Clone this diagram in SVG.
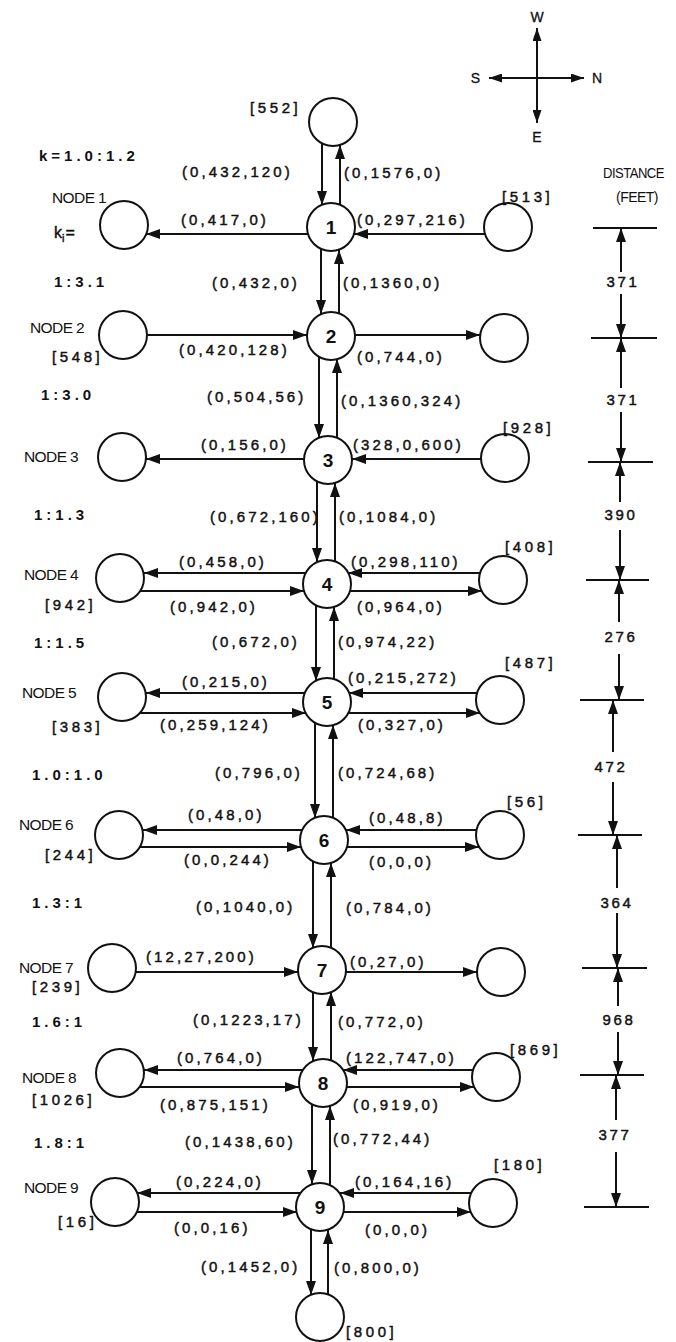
<svg xmlns="http://www.w3.org/2000/svg" width="676" height="1342" viewBox="0 0 676 1342">
<style>
text{font-family:"Liberation Sans",Arial,Helvetica,sans-serif;fill:#111}
.e{font-size:15px;letter-spacing:3.1px;stroke:#111;stroke-width:0.45px}
.r{font-size:15px;font-weight:bold;letter-spacing:4px}
.b{font-size:15px;letter-spacing:3.6px;stroke:#111;stroke-width:0.45px}
.n{font-size:15.5px;letter-spacing:-0.6px}
.num{font-size:19px;font-weight:bold;text-anchor:middle}
.c{font-size:14px;stroke:#111;stroke-width:0.3px}
.d{font-size:15px;letter-spacing:2.6px;text-anchor:middle;stroke:#111;stroke-width:0.45px}
circle{fill:#fff;stroke:#111;stroke-width:2}
.ln line{stroke:#111;stroke-width:2;fill:none}
.ar line{stroke:#111;stroke-width:2;marker-end:url(#ah)}
</style>
<defs>
<marker id="ah" markerUnits="userSpaceOnUse" markerWidth="14" markerHeight="10" refX="14" refY="5" orient="auto"><path d="M0,0 L14,5 L0,10 z" fill="#111"/></marker>
<marker id="ahs" markerUnits="userSpaceOnUse" markerWidth="13" markerHeight="9" refX="13" refY="4.5" orient="auto-start-reverse"><path d="M0,0 L13,4.5 L0,9 z" fill="#111"/></marker>
</defs>

<g id="compass">
<line x1="537" y1="28" x2="537" y2="123" stroke="#111" stroke-width="2" marker-start="url(#ahs)" marker-end="url(#ahs)"/>
<line x1="489" y1="78" x2="584" y2="78" stroke="#111" stroke-width="2" marker-start="url(#ahs)" marker-end="url(#ahs)"/>
<text class="c" x="537" y="22" text-anchor="middle">W</text>
<text class="c" x="537" y="142" text-anchor="middle">E</text>
<text class="c" x="480" y="83" text-anchor="end">S</text>
<text class="c" x="592" y="83">N</text>
</g>

<g id="left-labels">
<text class="r" x="39" y="161">k=1.0:1.2</text>
<text style="font-size:16px;stroke:#111;stroke-width:0.4px" x="54" y="238">k<tspan dy="4" font-size="11">i</tspan><tspan dy="-4" dx="1">=</tspan></text>
<text class="r" x="54" y="287">1:3.1</text>
<text class="r" x="41" y="400">1:3.0</text>
<text class="r" x="34" y="520">1:1.3</text>
<text class="r" x="34" y="648">1:1.5</text>
<text class="r" x="32" y="780">1.0:1.0</text>
<text class="r" x="32" y="908">1.3:1</text>
<text class="r" x="32" y="1027">1.6:1</text>
<text class="r" x="34" y="1148">1.8:1</text>
</g>

<g id="node-top"><circle cx="333" cy="122" r="24"/><text class="b" x="250" y="113">[552]</text></g>
<g id="node-bottom"><circle cx="320" cy="1317" r="24"/><text class="b" x="346" y="1337">[800]</text></g>

<g id="node-1"><circle cx="331" cy="227" r="24"/><text class="num" x="331" y="234">1</text>
<circle cx="124" cy="225" r="24"/><circle cx="508" cy="227" r="24"/>
<text class="n" x="52" y="203">NODE 1</text><text class="b" x="502" y="202">[513]</text></g>
<g id="node-2"><circle cx="331" cy="336" r="24"/><text class="num" x="331" y="343">2</text>
<circle cx="123" cy="335" r="24"/><circle cx="504" cy="338" r="24"/>
<text class="n" x="30" y="333">NODE 2</text><text class="b" x="52" y="362">[548]</text></g>
<g id="node-3"><circle cx="328" cy="460" r="24"/><text class="num" x="328" y="467">3</text>
<circle cx="122" cy="457" r="24"/><circle cx="505" cy="458" r="24"/>
<text class="n" x="24" y="462">NODE 3</text><text class="b" x="503" y="433">[928]</text></g>
<g id="node-4"><circle cx="327" cy="584" r="24"/><text class="num" x="327" y="591">4</text>
<circle cx="120" cy="578" r="24"/><circle cx="503" cy="580" r="24"/>
<text class="n" x="24" y="580">NODE 4</text><text class="b" x="45" y="610">[942]</text><text class="b" x="505" y="552">[408]</text></g>
<g id="node-5"><circle cx="327" cy="702" r="24"/><text class="num" x="327" y="709">5</text>
<circle cx="122" cy="697" r="24"/><circle cx="500" cy="700" r="24"/>
<text class="n" x="22" y="698">NODE 5</text><text class="b" x="52" y="732">[383]</text><text class="b" x="505" y="668">[487]</text></g>
<g id="node-6"><circle cx="324" cy="840" r="24"/><text class="num" x="324" y="847">6</text>
<circle cx="119" cy="835" r="24"/><circle cx="500" cy="835" r="24"/>
<text class="n" x="19" y="830">NODE 6</text><text class="b" x="45" y="860">[244]</text><text class="b" x="507" y="807">[56]</text></g>
<g id="node-7"><circle cx="322" cy="970" r="24"/><text class="num" x="322" y="977">7</text>
<circle cx="112" cy="968" r="24"/><circle cx="501" cy="972" r="24"/>
<text class="n" x="19" y="973">NODE 7</text><text class="b" x="32" y="992">[239]</text></g>
<g id="node-8"><circle cx="323" cy="1083" r="24"/><text class="num" x="323" y="1090">8</text>
<circle cx="120" cy="1073" r="24"/><circle cx="496" cy="1077" r="24"/>
<text class="n" x="22" y="1083">NODE 8</text><text class="b" x="32" y="1105">[1026]</text><text class="b" x="510" y="1055">[869]</text></g>
<g id="node-9"><circle cx="320" cy="1207" r="24"/><text class="num" x="320" y="1214">9</text>
<circle cx="115" cy="1202" r="24"/><circle cx="493" cy="1203" r="24"/>
<text class="n" x="24" y="1193">NODE 9</text><text class="b" x="58" y="1227">[16]</text><text class="b" x="494" y="1170">[180]</text></g>

<g id="connectors" class="ar">
<line x1="322" y1="143" x2="322" y2="205"/><line x1="340" y1="205" x2="340" y2="145"/>
<line x1="308" y1="234" x2="146" y2="234"/><line x1="485" y1="234" x2="354" y2="234"/>
<line x1="321" y1="249" x2="321" y2="314"/><line x1="339" y1="313" x2="339" y2="250"/>
<line x1="147" y1="335" x2="307" y2="335"/><line x1="355" y1="335" x2="480" y2="335"/>
<line x1="319" y1="357" x2="319" y2="438"/><line x1="337" y1="438" x2="337" y2="359"/>
<line x1="304" y1="459" x2="146" y2="459"/><line x1="481" y1="459" x2="352" y2="459"/>
<line x1="317" y1="481" x2="317" y2="562"/><line x1="335" y1="561" x2="335" y2="483"/>
<line x1="306" y1="573" x2="144" y2="573"/><line x1="480" y1="573" x2="348" y2="573"/>
<line x1="140" y1="591" x2="304" y2="591"/><line x1="350" y1="591" x2="482" y2="591"/>
<line x1="316" y1="605" x2="316" y2="681"/><line x1="334" y1="679" x2="334" y2="607"/>
<line x1="305" y1="693" x2="146" y2="693"/><line x1="477" y1="693" x2="349" y2="693"/>
<line x1="140" y1="713" x2="306" y2="713"/><line x1="348" y1="713" x2="480" y2="713"/>
<line x1="315" y1="723" x2="315" y2="818"/><line x1="333" y1="818" x2="333" y2="725"/>
<line x1="302" y1="830" x2="143" y2="830"/><line x1="477" y1="830" x2="346" y2="830"/>
<line x1="140" y1="847" x2="301" y2="847"/><line x1="347" y1="847" x2="479" y2="847"/>
<line x1="313" y1="861" x2="313" y2="948"/><line x1="331" y1="948" x2="331" y2="863"/>
<line x1="136" y1="972" x2="298" y2="972"/><line x1="346" y1="972" x2="477" y2="972"/>
<line x1="313" y1="992" x2="313" y2="1061"/><line x1="331" y1="1060" x2="331" y2="992"/>
<line x1="303" y1="1070" x2="144" y2="1070"/><line x1="473" y1="1070" x2="343" y2="1070"/>
<line x1="140" y1="1087" x2="299" y2="1087"/><line x1="347" y1="1087" x2="474" y2="1087"/>
<line x1="312" y1="1104" x2="312" y2="1184"/><line x1="330" y1="1185" x2="330" y2="1106"/>
<line x1="300" y1="1193" x2="137" y2="1193"/><line x1="471" y1="1193" x2="340" y2="1193"/>
<line x1="137" y1="1212" x2="297" y2="1212"/><line x1="344" y1="1212" x2="471" y2="1212"/>
<line x1="311" y1="1229" x2="311" y2="1295"/><line x1="328" y1="1294" x2="328" y2="1230"/>
</g>

<g id="edge-labels" class="e">
<text x="182" y="177">(0,432,120)</text><text x="344" y="178">(0,1576,0)</text>
<text x="181" y="225">(0,417,0)</text><text x="357" y="225">(0,297,216)</text>
<text x="212" y="288">(0,432,0)</text><text x="343" y="288">(0,1360,0)</text>
<text x="179" y="355">(0,420,128)</text><text x="357" y="362">(0,744,0)</text>
<text x="207" y="402">(0,504,56)</text><text x="341" y="406">(0,1360,324)</text>
<text x="201" y="450">(0,156,0)</text><text x="353" y="450">(328,0,600)</text>
<text x="210" y="522">(0,672,160)</text><text x="339" y="522">(0,1084,0)</text>
<text x="179" y="567">(0,458,0)</text><text x="351" y="567">(0,298,110)</text>
<text x="170" y="612">(0,942,0)</text><text x="357" y="612">(0,964,0)</text>
<text x="212" y="647">(0,672,0)</text><text x="338" y="647">(0,974,22)</text>
<text x="182" y="687">(0,215,0)</text><text x="348" y="683">(0,215,272)</text>
<text x="160" y="730">(0,259,124)</text><text x="358" y="730">(0,327,0)</text>
<text x="215" y="778">(0,796,0)</text><text x="338" y="778">(0,724,68)</text>
<text x="188" y="820">(0,48,0)</text><text x="369" y="823">(0,48,8)</text>
<text x="184" y="865">(0,0,244)</text><text x="369" y="867">(0,0,0)</text>
<text x="196" y="912">(0,1040,0)</text><text x="346" y="913">(0,784,0)</text>
<text x="146" y="962">(12,27,200)</text><text x="350" y="967">(0,27,0)</text>
<text x="193" y="1025">(0,1223,17)</text><text x="338" y="1027">(0,772,0)</text>
<text x="177" y="1063">(0,764,0)</text><text x="346" y="1063">(122,747,0)</text>
<text x="160" y="1110">(0,875,151)</text><text x="353" y="1110">(0,919,0)</text>
<text x="185" y="1147">(0,1438,60)</text><text x="333" y="1144">(0,772,44)</text>
<text x="176" y="1187">(0,224,0)</text><text x="355" y="1187">(0,164,16)</text>
<text x="174" y="1233">(0,0,16)</text><text x="365" y="1235">(0,0,0)</text>
<text x="201" y="1272">(0,1452,0)</text><text x="334" y="1273">(0,800,0)</text>
</g>

<g id="distance-scale">
<text class="n" x="603" y="178" textLength="61" lengthAdjust="spacingAndGlyphs">DISTANCE</text>
<text class="n" x="616" y="202" textLength="42" lengthAdjust="spacingAndGlyphs">(FEET)</text>
<g class="ln">
<line x1="593" y1="228" x2="657" y2="228"/>
<line x1="591" y1="338" x2="657" y2="338"/>
<line x1="588" y1="462" x2="653" y2="462"/>
<line x1="586" y1="580" x2="649" y2="580"/>
<line x1="580" y1="700" x2="644" y2="700"/>
<line x1="578" y1="835" x2="642" y2="835"/>
<line x1="582" y1="968" x2="647" y2="968"/>
<line x1="580" y1="1075" x2="644" y2="1075"/>
<line x1="584" y1="1207" x2="649" y2="1207"/>
</g>
<g class="ar">
<line x1="621" y1="272" x2="621" y2="228"/><line x1="621" y1="294" x2="621" y2="338"/>
<line x1="621" y1="388" x2="621" y2="338"/><line x1="621" y1="412" x2="621" y2="462"/>
<line x1="620" y1="502" x2="620" y2="462"/><line x1="620" y1="530" x2="620" y2="580"/>
<line x1="619" y1="622" x2="619" y2="580"/><line x1="619" y1="654" x2="619" y2="700"/>
<line x1="613" y1="752" x2="613" y2="700"/><line x1="613" y1="782" x2="613" y2="835"/>
<line x1="617" y1="888" x2="617" y2="835"/><line x1="617" y1="913" x2="617" y2="968"/>
<line x1="618" y1="1006" x2="618" y2="968"/><line x1="618" y1="1032" x2="618" y2="1075"/>
<line x1="616" y1="1120" x2="616" y2="1075"/><line x1="616" y1="1152" x2="616" y2="1207"/>
</g>
<text class="d" x="623" y="287">371</text>
<text class="d" x="623" y="405">371</text>
<text class="d" x="621" y="520">390</text>
<text class="d" x="621" y="642">276</text>
<text class="d" x="611" y="772">472</text>
<text class="d" x="617" y="908">364</text>
<text class="d" x="619" y="1025">968</text>
<text class="d" x="615" y="1140">377</text>
</g>
</svg>
